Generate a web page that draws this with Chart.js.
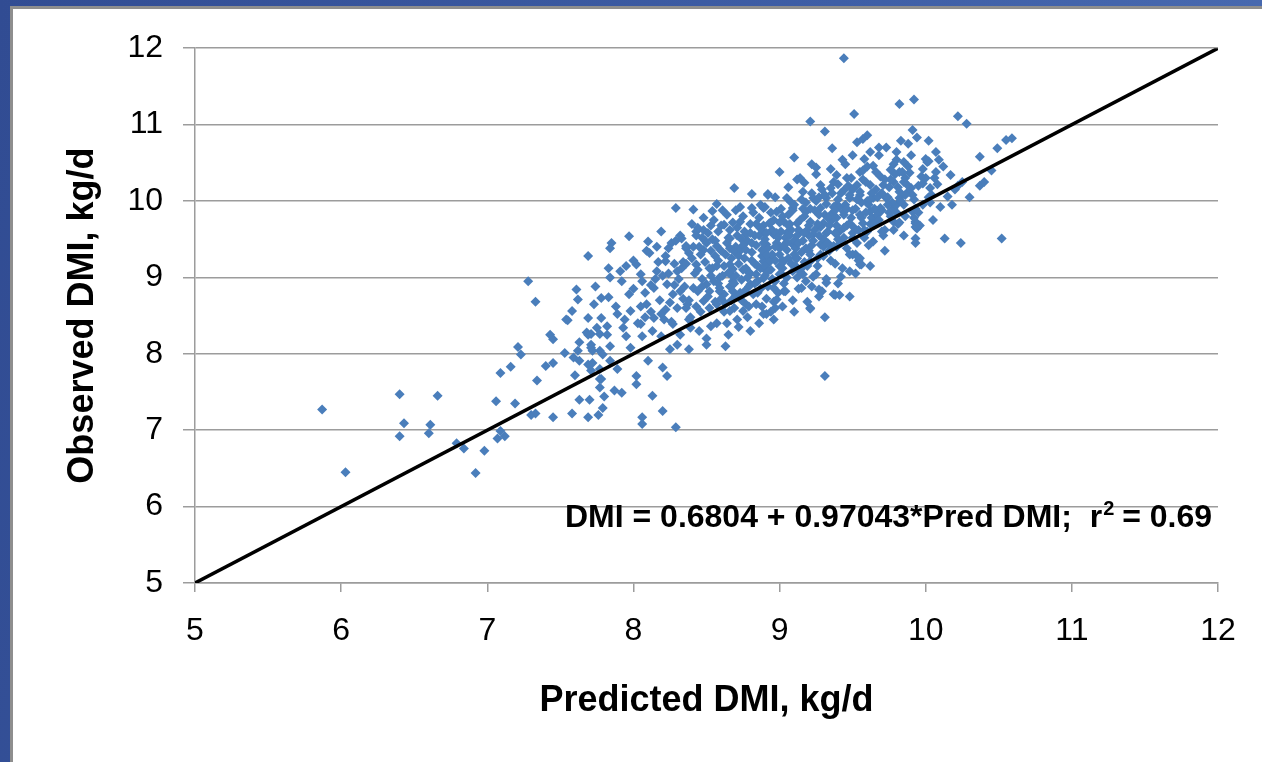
<!DOCTYPE html>
<html>
<head>
<meta charset="utf-8">
<script src="https://cdn.jsdelivr.net/npm/chart.js@4.4.0/dist/chart.umd.min.js"></script>
<style>
    html, body { margin: 0; padding: 0; width: 1262px; height: 762px; overflow: hidden; }
    body { background: linear-gradient(100deg, #314c93 0%, #3e5ea6 60%, #4a6cb2 100%); }
    #frame {
        position: absolute; left: 10px; top: 6px; right: 0; bottom: 0;
        border-left: 3px solid #8e8e8e; border-top: 3px solid #8e8e8e;
        background: #ffffff;
    }
    #mycanvas { display: block; }
</style>
</head>
<body>
<div id="frame">
    <canvas id="mycanvas" width="1249" height="753"></canvas>
</div>
<script>
// axis ticks
var axisTicks = [5, 6, 7, 8, 9, 10, 11, 12];

// 1:1 reference line
var refLine = [[5, 5], [12, 12]];

// observed vs predicted DMI (kg/d)
var tailPoints = [
    [5.87,7.27],[6.03,6.45],[6.40,7.47],[6.66,7.45],[6.43,7.09],[6.40,6.92],[6.61,7.07],[6.60,6.96],
    [6.79,6.83],[6.84,6.76],[6.98,6.73],[6.92,6.44],[7.09,6.99],[7.07,6.89],[7.12,6.92],[7.06,7.38],
    [7.19,7.35],[7.09,7.75],[7.16,7.83],[7.21,8.09],[7.23,7.99],[7.28,8.95],[7.33,8.68],[7.34,7.65],
    [7.30,7.20],[7.33,7.22]
];

var midPoints = [
    [8.69,10.17],[8.81,10.09],[8.92,10.09],[8.29,9.91],[8.41,9.89],[8.54,9.87],[8.57,9.96],[8.70,9.88],
    [8.81,9.91],[8.87,9.95],[8.19,9.60],[8.43,9.60],[8.62,9.69],[8.73,9.73],[7.97,9.54],[7.85,9.45],
    [7.84,9.38],[7.69,9.28],[8.10,9.47],[8.26,9.45],[8.33,9.51],[8.36,9.41],[8.48,9.36],[8.57,9.41],
    [8.66,9.51],[8.77,9.56],[8.89,9.60],[8.11,9.32],[8.02,9.17],[7.83,9.12],[8.22,9.21],[8.16,9.08],
    [8.30,9.08],[8.43,9.17],[8.54,9.12],[8.66,9.17],[8.77,9.12],[8.89,9.21],[7.84,9.00],[7.92,8.95],
    [8.05,9.04],[7.61,8.84],[7.74,8.88],[7.62,8.71],[7.78,8.73],[7.83,8.74],[7.73,8.65],[7.58,8.56],
    [7.55,8.44],[7.69,8.47],[7.78,8.47],[7.89,8.52],[7.98,8.56],[8.09,8.65],[8.14,8.86],[8.23,8.91],
    [8.32,8.82],[8.41,8.86],[8.50,8.91],[8.59,8.86],[8.68,8.95],[8.80,8.91],[8.89,8.99],[8.25,8.67],
    [8.36,8.60],[8.48,8.69],[8.57,8.65],[8.66,8.56],[8.75,8.56],[8.84,8.65],[8.91,8.52],[7.82,8.36],
    [7.93,8.34],[8.05,8.39],[8.14,8.47],[8.27,8.39],[8.39,8.34],[8.53,8.36],[8.64,8.40],[8.80,8.30],
    [7.43,8.25],[7.45,8.19],[7.63,8.15],[7.69,8.25],[7.75,8.34],[7.82,8.25],[7.95,8.23],[8.06,8.23],
    [8.19,8.23],[8.30,8.12],[8.50,8.12],[8.63,8.10],[7.62,8.04],[7.71,8.08],[7.84,8.10],[7.98,8.08],
    [7.53,8.01],[7.59,7.95],[7.63,7.91],[7.72,7.88],[7.84,7.91],[8.25,8.06],[8.38,8.06],[7.40,7.84],
    [7.45,7.88],[7.60,7.72],[7.71,7.78],[7.78,7.67],[7.89,7.80],[8.02,7.71],[8.02,7.60],[8.10,7.91],
    [8.20,7.82],[8.23,7.71],[7.77,7.56],[7.87,7.52],[7.92,7.49],[7.63,7.40],[7.70,7.40],[7.80,7.44],
    [8.13,7.45],[7.79,7.29],[7.45,7.17],[7.58,7.22],[7.69,7.17],[7.76,7.20],[8.06,7.17],[8.06,7.08],
    [8.20,7.25],[8.29,7.04],[8.38,8.45],[8.71,8.45],[7.68,8.28],[7.71,8.26],[7.77,8.26],[7.71,8.12],
    [7.72,8.04],[7.77,8.04],[7.79,7.99],[7.69,7.86],[7.77,7.80],[7.77,7.67],[7.54,8.45]
];

var highPoints = [
    [9.44,11.87],[9.82,11.27],[9.92,11.33],[9.51,11.14],[10.22,11.11],[10.28,11.01],[9.21,11.04],[9.31,10.91],
    [9.91,10.93],[9.94,10.83],[9.60,10.86],[9.57,10.81],[9.53,10.77],[9.83,10.79],[9.88,10.75],[10.02,10.79],
    [10.55,10.80],[10.59,10.82],[10.49,10.69],[10.37,10.58],[9.36,10.69],[9.43,10.54],[9.10,10.57],[9.22,10.48],
    [9.25,10.44],[9.00,10.38],[9.50,10.60],[9.62,10.64],[9.68,10.60],[9.73,10.70],[9.80,10.64],[9.80,10.54],
    [9.85,10.51],[10.07,10.64],[10.09,10.54],[10.01,10.51],[9.60,10.45],[9.64,10.46],[9.76,10.41],[9.82,10.38],
    [9.89,10.37],[10.07,10.38],[10.17,10.34],[9.39,10.34],[9.46,10.30],[9.55,10.38],[9.12,10.28],[9.17,10.24],
    [9.28,10.21],[9.35,10.17],[9.44,10.14],[9.53,10.21],[9.62,10.21],[9.71,10.21],[9.78,10.25],[9.85,10.25],
    [9.90,10.17],[9.98,10.23],[10.03,10.17],[10.22,10.20],[10.37,10.20],[10.15,10.06],[8.92,10.08],[9.05,10.04],
    [9.16,10.12],[9.23,10.04],[9.32,10.04],[9.39,9.95],[9.48,10.04],[9.55,10.08],[9.64,10.04],[9.73,10.04],
    [9.82,10.04],[9.98,9.95],[8.89,9.91],[8.98,9.86],[9.09,9.91],[9.18,9.86],[9.28,9.91],[9.35,9.82],
    [9.44,9.86],[9.55,9.82],[9.62,9.86],[9.69,9.91],[9.78,9.91],[9.85,9.95],[9.91,9.86],[8.93,9.71],
    [9.03,9.73],[9.12,9.71],[9.21,9.73],[9.30,9.71],[9.39,9.78],[9.48,9.71],[9.57,9.71],[9.66,9.73],
    [9.78,9.73],[9.93,9.71],[9.94,9.64],[9.93,9.51],[9.93,9.45],[10.13,9.51],[10.24,9.45],[10.52,9.51],
    [8.96,9.56],[9.05,9.58],[9.14,9.60],[9.23,9.56],[9.32,9.58],[9.41,9.60],[9.50,9.58],[9.60,9.60],
    [9.64,9.47],[8.91,9.43],[9.00,9.38],[9.09,9.43],[9.18,9.38],[9.28,9.43],[9.37,9.41],[9.50,9.30],
    [9.55,9.25],[9.55,9.17],[9.38,9.18],[9.48,9.08],[9.42,9.01],[8.93,9.25],[9.03,9.21],[9.12,9.25],
    [9.21,9.21],[9.30,9.28],[8.91,9.08],[9.00,9.04],[9.09,9.08],[9.16,9.04],[9.23,9.01],[8.96,8.86],
    [9.03,8.82],[9.15,8.86],[9.27,8.84],[9.32,8.93],[9.27,8.75],[9.38,8.77],[9.41,8.77],[9.48,8.75],
    [8.98,8.71],[8.97,8.60],[8.89,8.52],[9.21,8.60],[9.31,8.48],[8.96,8.45],[9.31,7.71],[9.21,8.59],
    [10.02,10.52],[9.93,9.73],[9.93,9.66],[9.52,9.30],[9.56,9.17],[9.25,9.04],[9.37,8.78]
];

var corePoints = [
    [8.42,9.05],[8.47,8.98],[8.52,9.12],[8.55,8.95],[8.58,9.22],[8.61,9.02],[8.63,9.30],[8.66,8.88],
    [8.68,9.11],[8.70,9.40],[8.72,9.18],[8.74,8.97],[8.76,9.25],[8.78,9.48],[8.79,9.06],[8.81,9.33],
    [8.83,8.92],[8.85,9.15],[8.86,9.55],[8.88,9.28],[8.90,9.02],[8.92,9.38],[8.93,9.20],[8.95,9.62],
    [8.97,8.95],[8.98,9.45],[9.00,9.30],[9.02,9.12],[9.04,9.52],[9.05,9.36],[9.07,9.70],[9.08,9.18],
    [9.10,9.48],[9.12,9.00],[9.13,9.62],[9.15,9.33],[9.17,9.80],[9.19,9.15],[9.20,9.55],[9.22,9.42],
    [9.24,9.88],[9.26,9.25],[9.28,9.66],[9.30,9.50],[9.32,9.96],[9.34,9.35],[9.36,9.75],[9.38,9.58],
    [9.40,10.02],[9.42,9.45],[9.44,9.82],[9.46,9.68],[9.48,10.08],[9.50,9.52],[9.52,9.90],[9.55,10.12],
    [9.58,9.62],[9.60,10.00],[9.63,9.78],[9.66,10.15],[9.70,9.88],[9.74,10.05],[9.78,9.62],[9.82,10.12],
    [9.86,9.80],[9.92,10.02],[9.96,9.68],[10.04,10.08],[10.10,9.92],[10.20,10.15],
    [8.05,8.62],[8.08,8.80],[8.12,8.55],[8.15,8.98],[8.18,8.70],[8.21,8.45],[8.24,9.05],[8.27,8.78],
    [8.30,8.60],[8.33,9.12],[8.35,8.88],[8.38,8.70],[8.40,9.25],[8.44,8.82],[8.46,8.55],[8.49,9.20],
    [8.51,8.75],[8.53,9.35],[8.56,8.68],[8.59,9.00],[8.62,8.78],[8.64,9.45],[8.67,8.70],[8.69,8.92],
    [8.71,9.55],[8.73,8.80],[8.75,9.10],[8.77,8.65],[8.80,9.05],[8.82,8.78],[8.84,9.42],[8.87,8.85],
    [8.89,9.68],[8.91,8.72],[8.94,9.10],[8.96,9.75],[8.99,8.80],[9.01,9.60],[9.03,8.92],[9.06,9.82],
    [9.09,8.70],[9.11,9.25],[9.14,9.08],[9.16,9.90],[9.18,8.95]
];

var spreadPoints = [
    [7.88,8.62],[7.91,9.08],[7.94,8.45],[7.97,8.78],[8.00,9.22],[8.03,8.40],[8.06,8.95],[8.09,9.35],
    [8.13,8.30],[8.16,9.40],[8.19,8.52],[8.22,9.28],[8.26,8.42],[8.29,9.48],[8.32,8.25],[8.36,9.38],
    [8.39,8.48],[8.43,9.55],[8.45,8.30],[8.48,9.62],[8.50,8.20],[8.54,9.50],[8.57,8.40],[8.60,9.68],
    [8.65,8.25],[8.68,9.72],[8.72,8.35],[8.75,9.80],[8.78,8.48],[8.82,9.85],[8.86,8.40],[8.90,9.92],
    [8.94,8.55],[8.97,10.05],[9.02,8.62],[9.06,10.18],[9.10,8.55],[9.14,10.30],[9.19,8.68],[9.25,10.35],
    [9.29,8.82],[9.35,10.42],[9.40,8.92],[9.45,10.48],[9.52,9.05],[9.58,10.55],[9.62,9.15],[9.68,10.70],
    [9.72,9.35],[9.78,10.48],[9.85,9.55],[9.90,10.60],[9.95,9.85],[10.00,10.30],[10.05,9.75],[10.12,10.45],
    [10.18,9.95],[10.25,10.25],[10.30,10.05],[10.40,10.25],[10.45,10.40],
    [8.31,8.98],[8.34,9.20],[8.37,8.65],[8.41,9.40],[8.44,9.10],[8.47,8.88],[8.50,9.45],[8.53,9.02],
    [8.56,9.28],[8.59,8.82],[8.62,9.15],[8.65,9.52],[8.67,9.03],[8.70,8.76],[8.73,9.35],[8.76,9.60],
    [8.78,9.00],[8.81,9.22],[8.84,9.70],[8.87,9.12],[8.89,9.45],[8.92,8.88],[8.95,9.30],[8.98,9.58],
    [9.01,9.05],[9.03,9.42],[9.06,9.25],[9.08,9.62],[9.11,9.38],[9.14,9.75],[9.17,9.20],[9.20,9.68],
    [9.23,9.48],[9.25,10.00],[9.28,9.30],[9.31,9.82],[9.33,9.60],[9.36,10.10],[9.39,9.40],[9.41,9.92],
    [9.44,9.65],[9.47,10.20],[9.49,9.78],[9.53,9.45],[9.56,9.98],[9.59,10.25],[9.62,9.70],[9.65,9.90],
    [9.69,10.32],[9.72,9.62],[9.75,10.18],[9.80,9.95],[9.84,10.38],[9.88,10.12],[8.58,9.60],[8.62,8.55],
    [8.66,9.38],[8.69,8.60],[8.74,9.50],[8.79,8.62],[8.83,9.55],[8.88,8.62],[8.91,9.58],[8.96,8.68],
    [9.00,9.72],[9.04,8.82],[9.09,9.88],[9.13,8.85],[9.18,9.98],[9.22,8.88],[9.27,10.05],[9.32,8.98],
    [9.37,10.25],[9.43,9.12],[9.48,9.30],[9.54,9.22],[9.57,10.40],[9.61,9.42],[9.67,10.05],[9.71,9.55],
    [9.76,10.28],[9.81,9.70],[9.87,10.22],[9.93,9.90],[9.98,10.42],[10.03,9.98],[10.08,10.22]
];

var densePoints = [
    [8.46,9.30],[8.51,9.58],[8.55,9.75],[8.60,9.35],[8.64,9.82],[8.67,9.25],[8.71,9.65],[8.75,9.42],
    [8.80,9.70],[8.83,9.18],[8.86,9.78],[8.90,9.50],[8.94,9.85],[8.97,9.22],[9.01,9.90],[9.05,9.46],
    [9.08,9.98],[9.12,9.55],[9.15,10.02],[9.19,9.62],[9.22,10.10],[9.26,9.70],[9.29,10.15],[9.33,9.78],
    [9.37,9.92],[9.40,10.22],[9.45,9.95],[9.49,10.30],[9.53,10.02],[9.57,10.28],[9.61,9.95],[9.66,10.38],
    [9.70,10.10],[9.75,9.85],[9.79,10.35],[9.83,10.00],[9.88,10.45],[9.95,10.20],[10.00,10.55],[10.06,10.30],
    [8.20,9.02],[8.24,9.38],[8.28,8.90],[8.32,9.55],[8.36,9.18],[8.40,9.70],[8.45,9.40],[8.48,9.78],
    [8.52,8.82],[8.58,8.92],[8.63,8.66],[8.70,9.02],[8.74,8.70],[8.79,8.88],[8.85,8.80],[8.90,9.15],
    [8.95,8.98],[9.00,9.15],[9.05,9.00],[9.10,9.30],[9.15,9.12],[9.20,9.35],[9.26,9.15],[9.30,9.40],
    [9.35,9.22],[9.40,9.50],[9.46,9.38],[9.51,9.65],[9.58,9.52],[9.64,9.70],[9.70,9.60],[9.76,9.80],
    [9.82,9.72],
    [8.44,9.65],[8.49,9.48],[8.53,9.68],[8.57,9.15],[8.61,9.88],[8.66,9.62],[8.69,9.34],[8.73,9.92],
    [8.77,9.36],[8.80,9.58],[8.84,9.04],[8.87,9.64],[8.91,9.30],[8.94,9.72],[8.99,9.52],[9.02,9.80],
    [9.06,9.68],[9.10,9.95],[9.13,9.45],[9.17,9.58],[9.21,9.90],[9.24,9.62],[9.27,9.82],[9.31,10.08],
    [9.34,9.68],[9.38,9.88],[9.42,10.10],[9.46,9.90],[9.50,10.15],[9.54,9.62],[9.59,9.85],[9.63,10.10],
    [9.67,9.82],[9.72,10.28],[9.77,9.98],[9.81,10.18],[9.86,10.30],[9.91,10.08],[9.97,10.32],[10.02,10.05],
    [8.22,8.58],[8.28,9.18],[8.34,8.72],[8.38,9.32],[8.43,8.62],[8.47,9.52],[8.52,8.60],[8.56,9.48],
    [8.60,8.72],[8.65,9.06],[8.68,8.82],[8.72,9.28],[8.76,8.82],[8.81,9.45],[8.85,8.95],[8.88,9.36],
    [8.92,9.08],[8.97,9.40],[9.02,9.22],[9.07,9.55],[9.11,9.15],[9.16,9.48],[9.21,9.30],[9.27,9.55],
    [9.33,9.45],[9.39,9.68],[9.44,9.52],[9.50,9.88],[9.56,9.78],[9.62,10.02],[9.68,9.75],[9.74,9.95],
    [9.80,9.85],[9.86,10.08],[9.92,9.78],[8.12,8.90],[8.17,9.20],[8.08,8.48],[8.00,8.85],[7.95,9.15]
];

var eqText = ['DMI = 0.6804 + 0.97043*Pred DMI;  r', '2', ' = 0.69'];
var xTitle = 'Predicted DMI, kg/d';
var yTitle = 'Observed DMI, kg/d';

var fontFam = '"Liberation Sans", Arial, Helvetica, sans-serif';
var gridGrey = '#9c9c9c';
Chart.defaults.font.family = fontFam;
Chart.defaults.color = '#000000';

function toXY(list) {
    var out = [];
    for (var i in list) {
        out.push({ x: list[i][0], y: list[i][1] });
    }
    return out;
}

var scatterData = toXY(tailPoints.concat(midPoints, highPoints, corePoints, spreadPoints, densePoints));

// regression text, drawn inside the plot
var eqPlugin = {
    id: 'eqText',
    afterDatasetsDraw: function (chart) {
        var ctx = chart.ctx;
        var big = 'bold 32px ' + fontFam;
        var small = 'bold 20px ' + fontFam;
        ctx.save();
        ctx.fillStyle = '#000000';
        ctx.textBaseline = 'alphabetic';
        ctx.textAlign = 'left';
        ctx.font = big;
        var w1 = ctx.measureText(eqText[0]).width;
        var w3 = ctx.measureText(eqText[2]).width;
        ctx.font = small;
        var w2 = ctx.measureText(eqText[1]).width;
        var right = chart.chartArea.right - 6;
        var base = chart.scales.y.getPixelForValue(5.73);
        var x0 = right - w1 - w2 - w3;
        ctx.font = big;
        ctx.fillText(eqText[0], x0, base);
        ctx.font = small;
        ctx.fillText(eqText[1], x0 + w1 + 1, base - 12);
        ctx.font = big;
        ctx.fillText(eqText[2], x0 + w1 + w2, base);
        ctx.restore();
    }
};

var ctx = document.getElementById('mycanvas');

var chart = new Chart(ctx, {
    type: 'scatter',
    data: {
        datasets: [{
            type: 'line',
            label: '1:1',
            data: toXY(refLine),
            borderColor: '#000000',
            borderWidth: 3.5,
            pointRadius: 0,
            fill: false,
            order: 0
        }, {
            label: 'DMI',
            data: scatterData,
            pointStyle: 'rectRot',
            radius: 5,
            pointRadius: 5,
            pointBorderWidth: 0,
            backgroundColor: 'rgb(74,126,187)',
            borderColor: 'rgb(74,126,187)',
            order: 1
        }]
    },
    options: {
        responsive: false,
        animation: false,
        devicePixelRatio: 1,
        layout: { padding: { left: 44, right: 44, top: 37, bottom: 35 } },
        plugins: {
            legend: { display: false },
            tooltip: { enabled: false }
        },
        scales: {
            x: {
                type: 'linear',
                min: 5,
                max: 12,
                afterFit: function (scale) { scale.height = 144; },
                afterBuildTicks: function (scale) {
                    scale.ticks = axisTicks.map(function (v) { return { value: v }; });
                },
                ticks: { font: { size: 32 }, padding: 20, maxRotation: 0 },
                grid: { drawOnChartArea: false, drawTicks: true, tickLength: 9, color: gridGrey, lineWidth: 1.5 },
                border: { color: gridGrey, width: 1.5 },
                title: {
                    display: true,
                    text: xTitle,
                    font: { size: 36, weight: 'bold' },
                    padding: { top: 4, bottom: 4 }
                }
            },
            y: {
                type: 'linear',
                min: 5,
                max: 12,
                afterFit: function (scale) { scale.width = 138; },
                afterBuildTicks: function (scale) {
                    scale.ticks = axisTicks.map(function (v) { return { value: v }; });
                },
                ticks: { font: { size: 32 }, padding: 20 },
                grid: { color: gridGrey, lineWidth: 1.5, tickLength: 12 },
                border: { color: gridGrey, width: 1.5 },
                title: {
                    display: true,
                    text: yTitle,
                    font: { size: 36, weight: 'bold' },
                    padding: { top: 4, bottom: 4 }
                }
            }
        }
    },
    plugins: [eqPlugin]
});
</script>
</body>
</html>
